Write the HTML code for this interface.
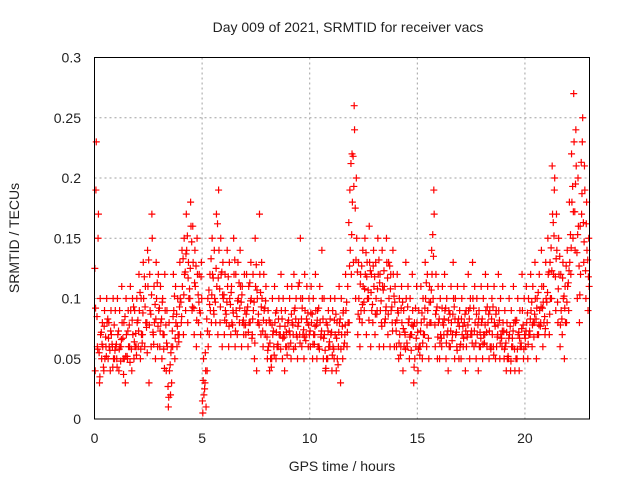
<!DOCTYPE html>
<html><head><meta charset="utf-8"><style>
body{margin:0;background:#fff;}
svg{display:block;font-family:"Liberation Sans",sans-serif;}
</style></head><body>
<svg id="chart" width="640" height="480">
<rect width="640" height="480" fill="#fff"/>
<g id="grid"></g>
<g id="pts"></g>
<rect x="94.5" y="57.5" width="495" height="361.5" fill="none" stroke="#000" stroke-width="1"/>
<g id="ticks"></g>
<text x="348" y="32" font-size="14" text-anchor="middle" fill="#222">Day 009 of 2021, SRMTID for receiver vacs</text>
<text x="0" y="0" font-size="14" text-anchor="middle" fill="#222" transform="translate(19,238) rotate(-90)">SRMTID / TECUs</text>
<text x="342" y="471" font-size="14" text-anchor="middle" fill="#222">GPS time / hours</text>
</svg>
<script>
const xTicks=[0,5,10,15,20];
const yTicks=[0,0.05,0.1,0.15,0.2,0.25,0.3];
const yTickLabels=["0","0.05","0.1","0.15","0.2","0.25","0.3"];
const timeStep=0.1;
const seriesMid=[.23,.17,.07,.06,.05,.08,.06,.07,.05,.06,
.07,.06,.08,.05,.07,.06,.09,.07,.06,.08,
.09,.07,.10,.08,.11,.09,.15,.08,.10,.09,
.08,.07,.09,.06,.04,.03,.09,.08,.07,.10,
.11,.12,.14,.10,.16,.13,.11,.12,.09,.10,
.02,.01,.06,.09,.12,.10,.11,.14,.12,.10,
.09,.11,.10,.08,.12,.09,.10,.11,.08,.09,
.09,.08,.10,.09,.11,.08,.12,.10,.09,.08,
.06,.05,.07,.08,.06,.07,.09,.07,.06,.08,
.07,.08,.09,.07,.08,.10,.07,.09,.08,.07,
.08,.07,.09,.06,.08,.10,.07,.05,.06,.07,
.06,.07,.05,.08,.07,.06,.09,.08,.14,.18,
.24,.15,.10,.09,.11,.12,.10,.13,.09,.11,
.10,.12,.09,.11,.08,.13,.10,.09,.12,.08,
.09,.07,.08,.06,.10,.08,.07,.09,.05,.08,
.06,.08,.07,.10,.09,.08,.12,.17,.09,.08,
.07,.08,.09,.07,.06,.08,.10,.07,.08,.06,
.07,.08,.06,.09,.07,.10,.08,.07,.06,.08,
.07,.09,.08,.06,.07,.08,.06,.09,.07,.08,
.06,.05,.07,.06,.08,.05,.07,.06,.09,.07,
.08,.07,.09,.08,.10,.07,.09,.11,.08,.10,
.12,.10,.17,.20,.14,.12,.09,.10,.08,.11,
.13,.18,.23,.21,.16,.12,.25,.19,.14,.11];
const seriesLow=[.04,.06,.03,.05,.04,.06,.05,.04,.06,.05,
.05,.04,.06,.05,.03,.05,.06,.04,.05,.06,
.06,.05,.07,.06,.08,.03,.06,.07,.05,.06,
.06,.05,.07,.04,.01,.02,.06,.05,.06,.07,
.08,.07,.09,.08,.10,.09,.07,.06,.08,.07,
.005,.03,.04,.07,.08,.09,.08,.07,.08,.06,
.07,.08,.06,.07,.09,.06,.07,.08,.06,.07,
.07,.06,.08,.07,.05,.04,.08,.07,.06,.07,
.05,.04,.05,.06,.05,.06,.07,.05,.04,.06,
.06,.05,.07,.06,.05,.07,.06,.05,.07,.06,
.06,.05,.07,.05,.06,.07,.05,.04,.05,.06,
.04,.05,.04,.06,.03,.05,.07,.06,.08,.12,
.13,.10,.07,.06,.08,.09,.07,.10,.06,.08,
.07,.09,.06,.08,.06,.09,.07,.06,.08,.06,
.06,.05,.06,.04,.07,.06,.05,.07,.03,.06,
.04,.06,.05,.07,.06,.05,.08,.10,.06,.05,
.05,.06,.07,.05,.04,.06,.07,.05,.06,.05,
.05,.06,.04,.07,.05,.07,.06,.05,.04,.06,
.05,.07,.06,.05,.06,.06,.05,.07,.05,.06,
.05,.04,.05,.04,.06,.04,.05,.04,.06,.05,
.06,.05,.07,.06,.08,.05,.07,.08,.06,.07,
.08,.07,.10,.12,.09,.08,.06,.07,.05,.08,
.09,.12,.15,.14,.10,.08,.17,.13,.10,.09];
const seriesHigh=[.19,.15,.10,.08,.09,.10,.08,.09,.10,.09,
.10,.09,.11,.08,.10,.09,.11,.10,.09,.10,
.12,.10,.13,.11,.14,.12,.17,.11,.13,.12,
.11,.10,.12,.09,.08,.06,.12,.11,.10,.13,
.14,.15,.17,.13,.18,.16,.14,.15,.12,.13,
.05,.04,.10,.12,.15,.14,.17,.19,.15,.13,
.12,.14,.13,.11,.15,.12,.13,.14,.11,.12,
.12,.11,.13,.12,.15,.10,.17,.13,.12,.11,
.09,.08,.10,.11,.09,.10,.12,.10,.09,.11,
.10,.11,.12,.10,.11,.15,.10,.12,.11,.10,
.11,.10,.12,.09,.11,.14,.10,.08,.09,.10,
.09,.10,.08,.11,.10,.09,.12,.11,.19,.22,
.26,.20,.13,.12,.14,.15,.13,.16,.12,.14,
.13,.15,.12,.14,.11,.15,.13,.12,.14,.11,
.12,.10,.11,.09,.13,.11,.10,.12,.08,.11,
.09,.11,.10,.13,.12,.11,.14,.19,.12,.11,
.10,.11,.12,.10,.09,.11,.13,.10,.11,.09,
.10,.11,.09,.12,.10,.13,.11,.10,.09,.11,
.10,.12,.11,.09,.10,.11,.09,.12,.10,.11,
.09,.08,.10,.09,.11,.08,.10,.09,.12,.10,
.11,.10,.12,.11,.13,.10,.12,.14,.11,.13,
.15,.13,.21,.19,.17,.15,.12,.13,.11,.14,
.18,.22,.27,.24,.20,.16,.23,.21,.18,.15];
const seriesD=[.125,.085,.055,.072,.043,.068,.083,.057,.062,.078,
.062,.073,.048,.067,.085,.052,.078,.058,.093,.071,
.082,.105,.063,.118,.076,.132,.087,.072,.095,.113,
.092,.083,.058,.078,.027,.045,.073,.102,.087,.064,
.097,.133,.122,.152,.108,.147,.092,.127,.103,.088,
.015,.025,.083,.107,.133,.117,.097,.162,.108,.122,
.103,.087,.118,.095,.078,.132,.085,.113,.097,.082,
.078,.093,.113,.067,.097,.128,.087,.105,.073,.092,
.068,.082,.043,.073,.088,.062,.077,.083,.068,.072,
.082,.063,.078,.092,.068,.113,.083,.074,.065,.088,
.073,.087,.062,.078,.092,.068,.083,.057,.078,.064,
.072,.058,.087,.045,.083,.077,.063,.097,.163,.212,
.218,.175,.122,.083,.127,.097,.138,.107,.123,.095,
.118,.087,.132,.098,.107,.083,.117,.127,.093,.102,
.073,.088,.053,.097,.072,.063,.083,.057,.077,.092,
.072,.053,.088,.083,.113,.067,.097,.153,.078,.093,
.083,.067,.078,.092,.073,.087,.065,.093,.072,.083,
.062,.077,.087,.068,.083,.073,.092,.063,.078,.072,
.083,.063,.072,.087,.058,.093,.077,.068,.082,.067,
.073,.063,.052,.077,.067,.058,.082,.072,.063,.078,
.067,.088,.073,.097,.068,.083,.105,.077,.092,.085,
.097,.122,.142,.163,.118,.097,.135,.083,.102,.127,
.113,.153,.193,.172,.138,.127,.213,.163,.123,.132];
const seriesE=[.092,.058,.035,.062,.077,.052,.067,.073,.043,.057,
.043,.058,.066,.037,.052,.073,.047,.082,.064,.053,
.073,.058,.088,.093,.055,.078,.103,.062,.083,.077,
.073,.097,.042,.063,.018,.055,.085,.067,.077,.093,
.085,.103,.137,.117,.125,.093,.113,.082,.097,.118,
.032,.055,.073,.095,.103,.087,.125,.117,.093,.103,
.082,.097,.077,.105,.088,.073,.098,.092,.103,.078,
.087,.072,.098,.083,.063,.107,.078,.093,.082,.098,
.057,.063,.078,.053,.072,.083,.058,.067,.077,.053,
.073,.087,.058,.083,.077,.063,.092,.068,.083,.078,
.088,.062,.077,.082,.058,.073,.067,.042,.073,.083,
.053,.082,.067,.072,.058,.088,.078,.072,.127,.153,
.193,.132,.087,.112,.095,.108,.118,.082,.105,.127,
.087,.108,.113,.077,.123,.093,.087,.108,.073,.097,
.082,.063,.092,.075,.058,.093,.068,.078,.043,.067,
.058,.073,.063,.092,.078,.097,.107,.135,.087,.068,
.063,.092,.083,.063,.082,.073,.087,.083,.057,.077,
.083,.067,.073,.078,.092,.063,.073,.087,.083,.067,
.062,.078,.093,.073,.083,.053,.087,.078,.063,.073,
.058,.072,.067,.048,.073,.082,.058,.067,.075,.058,
.073,.062,.083,.078,.087,.092,.078,.093,.097,.075,
.105,.087,.123,.152,.133,.108,.078,.117,.092,.097,
.123,.142,.172,.195,.153,.103,.187,.147,.162,.118];

const NS="http://www.w3.org/2000/svg";
const X0=94.5,X1=589.5,Y0=419,Y1=57.5,XMAX=23,YMAX=0.3;
function xs(v){return X0+(v/XMAX)*(X1-X0);}
function ys(v){return Y0-(v/YMAX)*(Y0-Y1);}
function mk(tag,attrs,parent){const e=document.createElementNS(NS,tag);for(const k in attrs)e.setAttribute(k,attrs[k]);parent.appendChild(e);return e;}
const grid=document.getElementById('grid'),ticks=document.getElementById('ticks'),pts=document.getElementById('pts');
xTicks.forEach((t,i)=>{
  const x=xs(t);
  if(t>0){const g=mk('line',{x1:x,x2:x,y1:Y1,y2:Y0,stroke:'#a0a0a0','stroke-dasharray':'2,3'},grid);
  
  }
  const l=mk('text',{x:x,y:443,'font-size':14,'text-anchor':'middle',fill:'#222'},ticks);
  l.textContent=String(t);
  
  
});
yTicks.forEach((t,i)=>{
  const y=ys(t);
  if(t>0&&t<YMAX){const g=mk('line',{x1:X0,x2:X1,y1:y,y2:y,stroke:'#a0a0a0','stroke-dasharray':'2,3'},grid);
  
  }
  const l=mk('text',{x:81,y:y+5,'font-size':14,'text-anchor':'end',fill:'#222'},ticks);
  l.textContent=yTickLabels[i];
  
  
});
function plus(t,v,color){
  const x=xs(t),y=ys(v);
  const p=mk('path',{d:`M${x-3.5},${y}H${x+3.5}M${x},${y-3.5}V${y+3.5}`,stroke:color,'stroke-width':1.2,fill:'none'},pts);
  
  
}
[[seriesE,0.05],[seriesD,0.016],[seriesLow,0.033],[seriesHigh,0.066],[seriesMid,0.083]].forEach(([arr,off])=>{
  arr.forEach((v,i)=>plus(i*timeStep+off,v,'#ff0000'));
});
</script>
</body></html>
